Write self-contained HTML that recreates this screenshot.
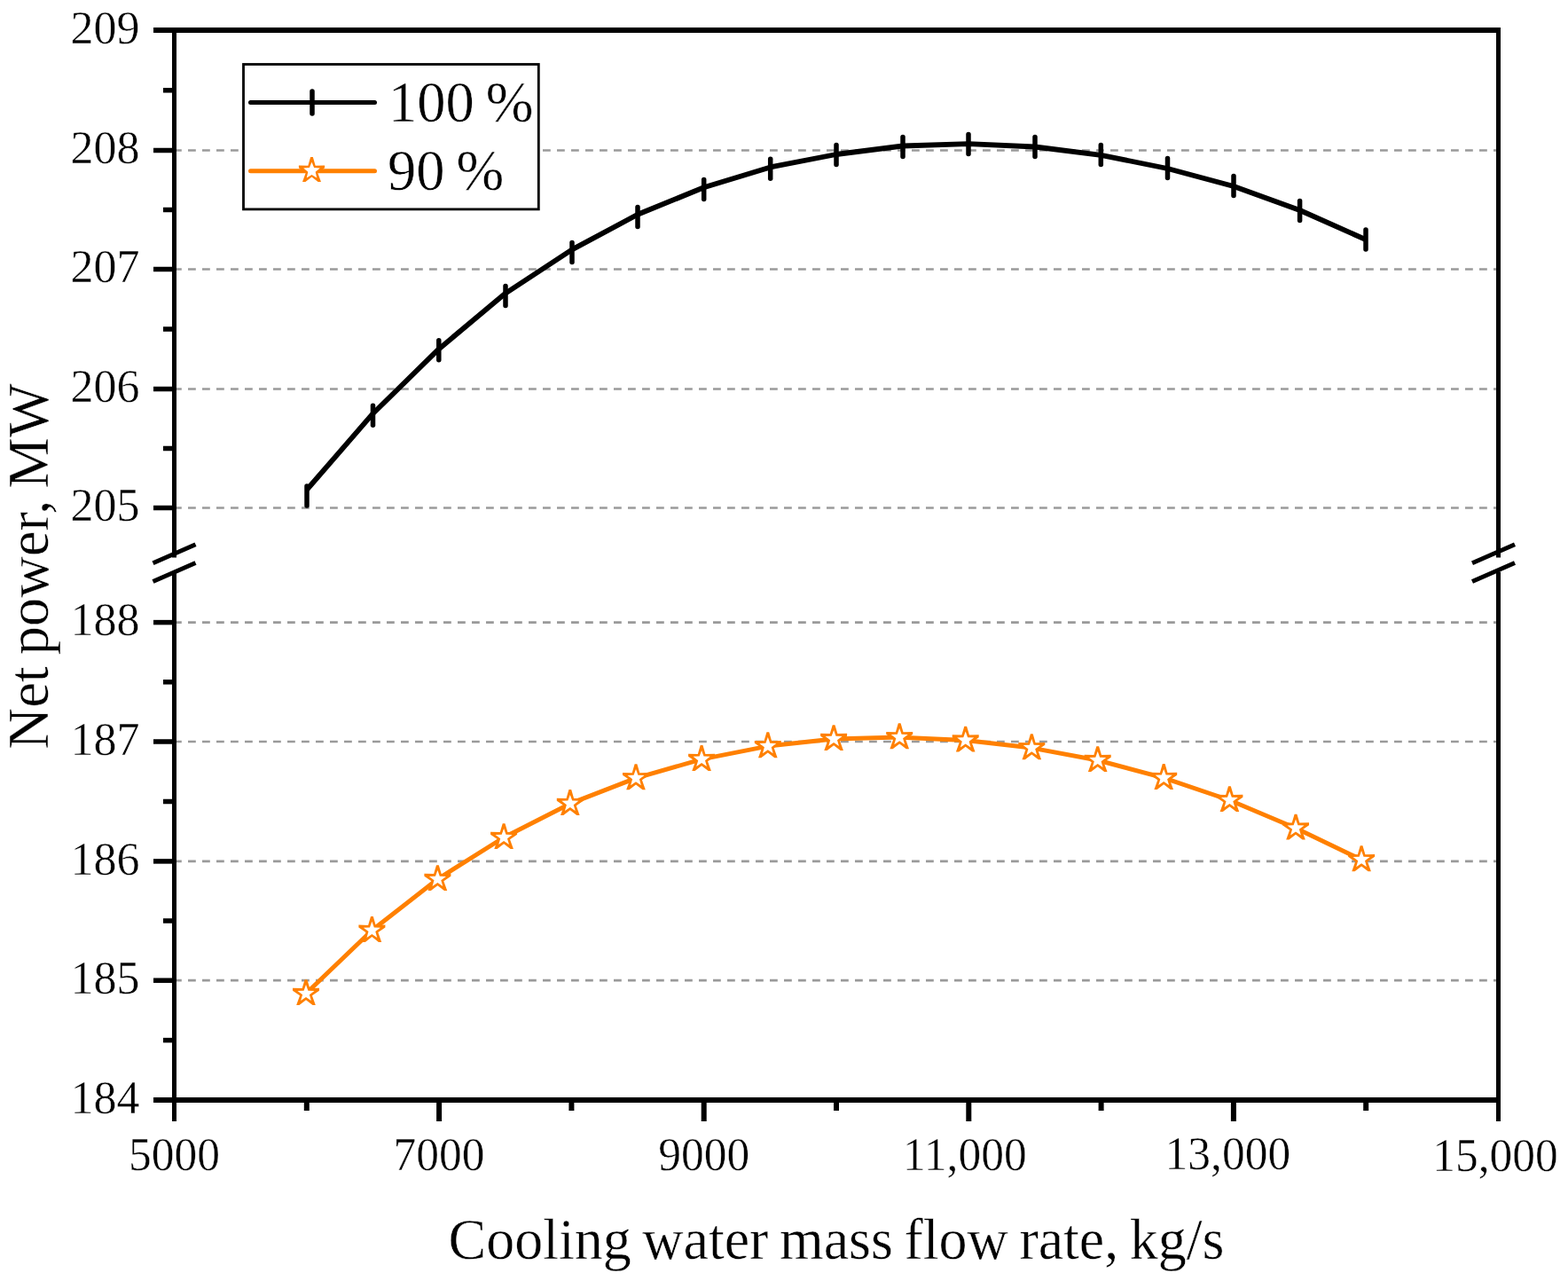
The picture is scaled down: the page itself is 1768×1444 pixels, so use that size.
<!DOCTYPE html>
<html><head><meta charset="utf-8"><title>Net power vs cooling water mass flow rate</title>
<style>html,body{margin:0;padding:0;background:#fff;}body{width:1768px;height:1444px;overflow:hidden;}svg{display:block;}text{fill:#000;stroke:#fff;stroke-width:0.45px;paint-order:fill;}</style>
</head><body>
<svg width="1768" height="1444" viewBox="0 0 1768 1444">
<rect width="1768" height="1444" fill="#fff"/>
<line x1="196.0" y1="169.5" x2="1689.5" y2="169.5" stroke="#9a9a9a" stroke-width="2.7" stroke-dasharray="8.8 7.2"/>
<line x1="196.0" y1="303.5" x2="1689.5" y2="303.5" stroke="#9a9a9a" stroke-width="2.7" stroke-dasharray="8.8 7.2"/>
<line x1="196.0" y1="438.5" x2="1689.5" y2="438.5" stroke="#9a9a9a" stroke-width="2.7" stroke-dasharray="8.8 7.2"/>
<line x1="196.0" y1="572.5" x2="1689.5" y2="572.5" stroke="#9a9a9a" stroke-width="2.7" stroke-dasharray="8.8 7.2"/>
<line x1="196.0" y1="701.6" x2="1689.5" y2="701.6" stroke="#9a9a9a" stroke-width="2.7" stroke-dasharray="8.8 7.2"/>
<line x1="196.0" y1="836.0" x2="1689.5" y2="836.0" stroke="#9a9a9a" stroke-width="2.7" stroke-dasharray="8.8 7.2"/>
<line x1="196.0" y1="970.9" x2="1689.5" y2="970.9" stroke="#9a9a9a" stroke-width="2.7" stroke-dasharray="8.8 7.2"/>
<line x1="196.0" y1="1105.2" x2="1689.5" y2="1105.2" stroke="#9a9a9a" stroke-width="2.7" stroke-dasharray="8.8 7.2"/>
<polyline points="346.0,552.0 420.5,466.2 494.8,393.4 570.0,330.6 645.0,281.4 719.0,241.8 793.7,211.3 868.7,188.4 943.0,174.0 1018.0,164.5 1092.0,162.1 1167.0,165.5 1241.3,174.8 1316.5,190.0 1391.0,210.0 1465.6,237.0 1540.0,270.1" fill="none" stroke="#000" stroke-width="5.8" stroke-linejoin="round"/>
<line x1="346" y1="548.0" x2="346" y2="570.0" stroke="#000" stroke-width="5.5" stroke-linecap="round"/>
<line x1="420.5" y1="457.3" x2="420.5" y2="479.3" stroke="#000" stroke-width="5.5" stroke-linecap="round"/>
<line x1="494.8" y1="383.7" x2="494.8" y2="405.7" stroke="#000" stroke-width="5.5" stroke-linecap="round"/>
<line x1="570" y1="322.6" x2="570" y2="344.6" stroke="#000" stroke-width="5.5" stroke-linecap="round"/>
<line x1="645" y1="273.4" x2="645" y2="295.4" stroke="#000" stroke-width="5.5" stroke-linecap="round"/>
<line x1="719" y1="233.4" x2="719" y2="255.4" stroke="#000" stroke-width="5.5" stroke-linecap="round"/>
<line x1="793.7" y1="202.6" x2="793.7" y2="224.6" stroke="#000" stroke-width="5.5" stroke-linecap="round"/>
<line x1="868.7" y1="179.3" x2="868.7" y2="201.3" stroke="#000" stroke-width="5.5" stroke-linecap="round"/>
<line x1="943" y1="163.4" x2="943" y2="185.4" stroke="#000" stroke-width="5.5" stroke-linecap="round"/>
<line x1="1018" y1="154.4" x2="1018" y2="176.4" stroke="#000" stroke-width="5.5" stroke-linecap="round"/>
<line x1="1092" y1="151.4" x2="1092" y2="173.4" stroke="#000" stroke-width="5.5" stroke-linecap="round"/>
<line x1="1167" y1="154.6" x2="1167" y2="176.6" stroke="#000" stroke-width="5.5" stroke-linecap="round"/>
<line x1="1241.3" y1="163.4" x2="1241.3" y2="185.4" stroke="#000" stroke-width="5.5" stroke-linecap="round"/>
<line x1="1316.5" y1="178.6" x2="1316.5" y2="200.6" stroke="#000" stroke-width="5.5" stroke-linecap="round"/>
<line x1="1391" y1="198.5" x2="1391" y2="220.5" stroke="#000" stroke-width="5.5" stroke-linecap="round"/>
<line x1="1465.6" y1="226.5" x2="1465.6" y2="248.5" stroke="#000" stroke-width="5.5" stroke-linecap="round"/>
<line x1="1540" y1="259.1" x2="1540" y2="281.1" stroke="#000" stroke-width="5.5" stroke-linecap="round"/>
<polyline points="345.0,1120.0 419.4,1048.8 493.4,991.0 568.1,944.0 642.8,905.9 717.0,877.1 791.1,855.9 865.8,841.1 940.1,833.0 1014.2,831.1 1088.7,834.5 1163.3,843.1 1237.7,857.0 1312.2,876.9 1386.4,902.0 1461.0,933.5 1535.1,969.1" fill="none" stroke="#ff8000" stroke-width="5" stroke-linejoin="round"/>
<path d="M343.62,1104.20 L346.38,1104.20 L349.29,1114.09 L360.00,1113.79 L360.00,1116.74 L351.94,1122.26 L355.81,1133.10 L352.53,1133.10 L345.00,1127.30 L337.47,1133.10 L334.19,1133.10 L338.06,1122.26 L330.00,1116.74 L330.00,1113.79 L340.71,1114.09Z" fill="#ff8000"/><path d="M345.00,1110.00 L347.41,1116.68 L354.51,1116.91 L348.90,1121.27 L350.88,1128.09 L345.00,1124.10 L339.12,1128.09 L341.10,1121.27 L335.49,1116.91 L342.59,1116.68Z" fill="#fff"/>
<path d="M418.02,1033.00 L420.78,1033.00 L423.69,1042.89 L434.40,1042.59 L434.40,1045.54 L426.34,1051.06 L430.21,1061.90 L426.93,1061.90 L419.40,1056.10 L411.87,1061.90 L408.59,1061.90 L412.46,1051.06 L404.40,1045.54 L404.40,1042.59 L415.11,1042.89Z" fill="#ff8000"/><path d="M419.40,1038.80 L421.81,1045.48 L428.91,1045.71 L423.30,1050.07 L425.28,1056.89 L419.40,1052.90 L413.52,1056.89 L415.50,1050.07 L409.89,1045.71 L416.99,1045.48Z" fill="#fff"/>
<path d="M492.02,975.20 L494.78,975.20 L497.69,985.09 L508.40,984.79 L508.40,987.74 L500.34,993.26 L504.21,1004.10 L500.93,1004.10 L493.40,998.30 L485.87,1004.10 L482.59,1004.10 L486.46,993.26 L478.40,987.74 L478.40,984.79 L489.11,985.09Z" fill="#ff8000"/><path d="M493.40,981.00 L495.81,987.68 L502.91,987.91 L497.30,992.27 L499.28,999.09 L493.40,995.10 L487.52,999.09 L489.50,992.27 L483.89,987.91 L490.99,987.68Z" fill="#fff"/>
<path d="M566.72,928.20 L569.48,928.20 L572.39,938.09 L583.10,937.79 L583.10,940.74 L575.04,946.26 L578.91,957.10 L575.63,957.10 L568.10,951.30 L560.57,957.10 L557.29,957.10 L561.16,946.26 L553.10,940.74 L553.10,937.79 L563.81,938.09Z" fill="#ff8000"/><path d="M568.10,934.00 L570.51,940.68 L577.61,940.91 L572.00,945.27 L573.98,952.09 L568.10,948.10 L562.22,952.09 L564.20,945.27 L558.59,940.91 L565.69,940.68Z" fill="#fff"/>
<path d="M641.42,890.10 L644.18,890.10 L647.09,899.99 L657.80,899.69 L657.80,902.64 L649.74,908.16 L653.61,919.00 L650.33,919.00 L642.80,913.20 L635.27,919.00 L631.99,919.00 L635.86,908.16 L627.80,902.64 L627.80,899.69 L638.51,899.99Z" fill="#ff8000"/><path d="M642.80,895.90 L645.21,902.58 L652.31,902.81 L646.70,907.17 L648.68,913.99 L642.80,910.00 L636.92,913.99 L638.90,907.17 L633.29,902.81 L640.39,902.58Z" fill="#fff"/>
<path d="M715.62,861.30 L718.38,861.30 L721.29,871.19 L732.00,870.89 L732.00,873.84 L723.94,879.36 L727.81,890.20 L724.53,890.20 L717.00,884.40 L709.47,890.20 L706.19,890.20 L710.06,879.36 L702.00,873.84 L702.00,870.89 L712.71,871.19Z" fill="#ff8000"/><path d="M717.00,867.10 L719.41,873.78 L726.51,874.01 L720.90,878.37 L722.88,885.19 L717.00,881.20 L711.12,885.19 L713.10,878.37 L707.49,874.01 L714.59,873.78Z" fill="#fff"/>
<path d="M789.72,840.10 L792.48,840.10 L795.39,849.99 L806.10,849.69 L806.10,852.64 L798.04,858.16 L801.91,869.00 L798.63,869.00 L791.10,863.20 L783.57,869.00 L780.29,869.00 L784.16,858.16 L776.10,852.64 L776.10,849.69 L786.81,849.99Z" fill="#ff8000"/><path d="M791.10,845.90 L793.51,852.58 L800.61,852.81 L795.00,857.17 L796.98,863.99 L791.10,860.00 L785.22,863.99 L787.20,857.17 L781.59,852.81 L788.69,852.58Z" fill="#fff"/>
<path d="M864.42,825.30 L867.18,825.30 L870.09,835.19 L880.80,834.89 L880.80,837.84 L872.74,843.36 L876.61,854.20 L873.33,854.20 L865.80,848.40 L858.27,854.20 L854.99,854.20 L858.86,843.36 L850.80,837.84 L850.80,834.89 L861.51,835.19Z" fill="#ff8000"/><path d="M865.80,831.10 L868.21,837.78 L875.31,838.01 L869.70,842.37 L871.68,849.19 L865.80,845.20 L859.92,849.19 L861.90,842.37 L856.29,838.01 L863.39,837.78Z" fill="#fff"/>
<path d="M938.72,817.20 L941.48,817.20 L944.39,827.09 L955.10,826.79 L955.10,829.74 L947.04,835.26 L950.91,846.10 L947.63,846.10 L940.10,840.30 L932.57,846.10 L929.29,846.10 L933.16,835.26 L925.10,829.74 L925.10,826.79 L935.81,827.09Z" fill="#ff8000"/><path d="M940.10,823.00 L942.51,829.68 L949.61,829.91 L944.00,834.27 L945.98,841.09 L940.10,837.10 L934.22,841.09 L936.20,834.27 L930.59,829.91 L937.69,829.68Z" fill="#fff"/>
<path d="M1012.82,815.30 L1015.58,815.30 L1018.49,825.19 L1029.20,824.89 L1029.20,827.84 L1021.14,833.36 L1025.01,844.20 L1021.73,844.20 L1014.20,838.40 L1006.67,844.20 L1003.39,844.20 L1007.26,833.36 L999.20,827.84 L999.20,824.89 L1009.91,825.19Z" fill="#ff8000"/><path d="M1014.20,821.10 L1016.61,827.78 L1023.71,828.01 L1018.10,832.37 L1020.08,839.19 L1014.20,835.20 L1008.32,839.19 L1010.30,832.37 L1004.69,828.01 L1011.79,827.78Z" fill="#fff"/>
<path d="M1087.32,818.70 L1090.08,818.70 L1092.99,828.59 L1103.70,828.29 L1103.70,831.24 L1095.64,836.76 L1099.51,847.60 L1096.23,847.60 L1088.70,841.80 L1081.17,847.60 L1077.89,847.60 L1081.76,836.76 L1073.70,831.24 L1073.70,828.29 L1084.41,828.59Z" fill="#ff8000"/><path d="M1088.70,824.50 L1091.11,831.18 L1098.21,831.41 L1092.60,835.77 L1094.58,842.59 L1088.70,838.60 L1082.82,842.59 L1084.80,835.77 L1079.19,831.41 L1086.29,831.18Z" fill="#fff"/>
<path d="M1161.92,827.30 L1164.68,827.30 L1167.59,837.19 L1178.30,836.89 L1178.30,839.84 L1170.24,845.36 L1174.11,856.20 L1170.83,856.20 L1163.30,850.40 L1155.77,856.20 L1152.49,856.20 L1156.36,845.36 L1148.30,839.84 L1148.30,836.89 L1159.01,837.19Z" fill="#ff8000"/><path d="M1163.30,833.10 L1165.71,839.78 L1172.81,840.01 L1167.20,844.37 L1169.18,851.19 L1163.30,847.20 L1157.42,851.19 L1159.40,844.37 L1153.79,840.01 L1160.89,839.78Z" fill="#fff"/>
<path d="M1236.32,841.20 L1239.08,841.20 L1241.99,851.09 L1252.70,850.79 L1252.70,853.74 L1244.64,859.26 L1248.51,870.10 L1245.23,870.10 L1237.70,864.30 L1230.17,870.10 L1226.89,870.10 L1230.76,859.26 L1222.70,853.74 L1222.70,850.79 L1233.41,851.09Z" fill="#ff8000"/><path d="M1237.70,847.00 L1240.11,853.68 L1247.21,853.91 L1241.60,858.27 L1243.58,865.09 L1237.70,861.10 L1231.82,865.09 L1233.80,858.27 L1228.19,853.91 L1235.29,853.68Z" fill="#fff"/>
<path d="M1310.82,861.10 L1313.58,861.10 L1316.49,870.99 L1327.20,870.69 L1327.20,873.64 L1319.14,879.16 L1323.01,890.00 L1319.73,890.00 L1312.20,884.20 L1304.67,890.00 L1301.39,890.00 L1305.26,879.16 L1297.20,873.64 L1297.20,870.69 L1307.91,870.99Z" fill="#ff8000"/><path d="M1312.20,866.90 L1314.61,873.58 L1321.71,873.81 L1316.10,878.17 L1318.08,884.99 L1312.20,881.00 L1306.32,884.99 L1308.30,878.17 L1302.69,873.81 L1309.79,873.58Z" fill="#fff"/>
<path d="M1385.02,886.20 L1387.78,886.20 L1390.69,896.09 L1401.40,895.79 L1401.40,898.74 L1393.34,904.26 L1397.21,915.10 L1393.93,915.10 L1386.40,909.30 L1378.87,915.10 L1375.59,915.10 L1379.46,904.26 L1371.40,898.74 L1371.40,895.79 L1382.11,896.09Z" fill="#ff8000"/><path d="M1386.40,892.00 L1388.81,898.68 L1395.91,898.91 L1390.30,903.27 L1392.28,910.09 L1386.40,906.10 L1380.52,910.09 L1382.50,903.27 L1376.89,898.91 L1383.99,898.68Z" fill="#fff"/>
<path d="M1459.62,917.70 L1462.38,917.70 L1465.29,927.59 L1476.00,927.29 L1476.00,930.24 L1467.94,935.76 L1471.81,946.60 L1468.53,946.60 L1461.00,940.80 L1453.47,946.60 L1450.19,946.60 L1454.06,935.76 L1446.00,930.24 L1446.00,927.29 L1456.71,927.59Z" fill="#ff8000"/><path d="M1461.00,923.50 L1463.41,930.18 L1470.51,930.41 L1464.90,934.77 L1466.88,941.59 L1461.00,937.60 L1455.12,941.59 L1457.10,934.77 L1451.49,930.41 L1458.59,930.18Z" fill="#fff"/>
<path d="M1533.72,953.30 L1536.48,953.30 L1539.39,963.19 L1550.10,962.89 L1550.10,965.84 L1542.04,971.36 L1545.91,982.20 L1542.63,982.20 L1535.10,976.40 L1527.57,982.20 L1524.29,982.20 L1528.16,971.36 L1520.10,965.84 L1520.10,962.89 L1530.81,963.19Z" fill="#ff8000"/><path d="M1535.10,959.10 L1537.51,965.78 L1544.61,966.01 L1539.00,970.37 L1540.98,977.19 L1535.10,973.20 L1529.22,977.19 L1531.20,970.37 L1525.59,966.01 L1532.69,965.78Z" fill="#fff"/>
<line x1="173.0" y1="34.0" x2="1692.0" y2="34.0" stroke="#000" stroke-width="6.0"/>
<line x1="173.0" y1="1240.0" x2="1692.0" y2="1240.0" stroke="#000" stroke-width="6.0"/>
<line x1="196.5" y1="34.0" x2="196.5" y2="628.5" stroke="#000" stroke-width="5.0"/>
<line x1="196.5" y1="644.5" x2="196.5" y2="1240.0" stroke="#000" stroke-width="5.0"/>
<line x1="172.5" y1="634.8" x2="220.5" y2="613.8" stroke="#000" stroke-width="5"/>
<line x1="172.5" y1="655.5" x2="220.5" y2="634.5" stroke="#000" stroke-width="5"/>
<line x1="1689.5" y1="34.0" x2="1689.5" y2="628.5" stroke="#000" stroke-width="5.0"/>
<line x1="1689.5" y1="644.5" x2="1689.5" y2="1240.0" stroke="#000" stroke-width="5.0"/>
<line x1="1660.0" y1="634.8" x2="1708.0" y2="613.8" stroke="#000" stroke-width="5"/>
<line x1="1660.0" y1="655.5" x2="1708.0" y2="634.5" stroke="#000" stroke-width="5"/>
<line x1="173.0" y1="169.5" x2="196.5" y2="169.5" stroke="#000" stroke-width="5.5"/>
<line x1="173.0" y1="303.5" x2="196.5" y2="303.5" stroke="#000" stroke-width="5.5"/>
<line x1="173.0" y1="438.5" x2="196.5" y2="438.5" stroke="#000" stroke-width="5.5"/>
<line x1="173.0" y1="572.5" x2="196.5" y2="572.5" stroke="#000" stroke-width="5.5"/>
<line x1="173.0" y1="701.6" x2="196.5" y2="701.6" stroke="#000" stroke-width="5.5"/>
<line x1="173.0" y1="836.0" x2="196.5" y2="836.0" stroke="#000" stroke-width="5.5"/>
<line x1="173.0" y1="970.9" x2="196.5" y2="970.9" stroke="#000" stroke-width="5.5"/>
<line x1="173.0" y1="1105.2" x2="196.5" y2="1105.2" stroke="#000" stroke-width="5.5"/>
<line x1="184.0" y1="101.8" x2="196.5" y2="101.8" stroke="#000" stroke-width="5.5"/>
<line x1="184.0" y1="236.5" x2="196.5" y2="236.5" stroke="#000" stroke-width="5.5"/>
<line x1="184.0" y1="371.0" x2="196.5" y2="371.0" stroke="#000" stroke-width="5.5"/>
<line x1="184.0" y1="505.5" x2="196.5" y2="505.5" stroke="#000" stroke-width="5.5"/>
<line x1="184.0" y1="768.8" x2="196.5" y2="768.8" stroke="#000" stroke-width="5.5"/>
<line x1="184.0" y1="903.5" x2="196.5" y2="903.5" stroke="#000" stroke-width="5.5"/>
<line x1="184.0" y1="1038.0" x2="196.5" y2="1038.0" stroke="#000" stroke-width="5.5"/>
<line x1="184.0" y1="1172.6" x2="196.5" y2="1172.6" stroke="#000" stroke-width="5.5"/>
<line x1="196.5" y1="1240.0" x2="196.5" y2="1264" stroke="#000" stroke-width="5"/>
<line x1="495.1" y1="1240.0" x2="495.1" y2="1264" stroke="#000" stroke-width="6"/>
<line x1="793.7" y1="1240.0" x2="793.7" y2="1264" stroke="#000" stroke-width="6"/>
<line x1="1092.3" y1="1240.0" x2="1092.3" y2="1264" stroke="#000" stroke-width="6"/>
<line x1="1390.9" y1="1240.0" x2="1390.9" y2="1264" stroke="#000" stroke-width="6"/>
<line x1="1689.5" y1="1240.0" x2="1689.5" y2="1264" stroke="#000" stroke-width="5"/>
<line x1="345.8" y1="1240.0" x2="345.8" y2="1252" stroke="#000" stroke-width="6"/>
<line x1="644.4" y1="1240.0" x2="644.4" y2="1252" stroke="#000" stroke-width="6"/>
<line x1="943.0" y1="1240.0" x2="943.0" y2="1252" stroke="#000" stroke-width="6"/>
<line x1="1241.6" y1="1240.0" x2="1241.6" y2="1252" stroke="#000" stroke-width="6"/>
<line x1="1540.2" y1="1240.0" x2="1540.2" y2="1252" stroke="#000" stroke-width="6"/>
<text transform="translate(157.5,48.8) scale(1,1.03)" text-anchor="end" font-family='"Liberation Serif", "Times New Roman", serif' font-size="52">209</text>
<text transform="translate(157.5,184.3) scale(1,1.03)" text-anchor="end" font-family='"Liberation Serif", "Times New Roman", serif' font-size="52">208</text>
<text transform="translate(157.5,318.3) scale(1,1.03)" text-anchor="end" font-family='"Liberation Serif", "Times New Roman", serif' font-size="52">207</text>
<text transform="translate(157.5,453.3) scale(1,1.03)" text-anchor="end" font-family='"Liberation Serif", "Times New Roman", serif' font-size="52">206</text>
<text transform="translate(157.5,587.3) scale(1,1.03)" text-anchor="end" font-family='"Liberation Serif", "Times New Roman", serif' font-size="52">205</text>
<text transform="translate(157.5,716.4) scale(1,1.03)" text-anchor="end" font-family='"Liberation Serif", "Times New Roman", serif' font-size="52">188</text>
<text transform="translate(157.5,850.8) scale(1,1.03)" text-anchor="end" font-family='"Liberation Serif", "Times New Roman", serif' font-size="52">187</text>
<text transform="translate(157.5,985.7) scale(1,1.03)" text-anchor="end" font-family='"Liberation Serif", "Times New Roman", serif' font-size="52">186</text>
<text transform="translate(157.5,1120.0) scale(1,1.03)" text-anchor="end" font-family='"Liberation Serif", "Times New Roman", serif' font-size="52">185</text>
<text transform="translate(157.5,1254.8) scale(1,1.03)" text-anchor="end" font-family='"Liberation Serif", "Times New Roman", serif' font-size="52">184</text>
<text transform="translate(196.5,1318.8) scale(1,1.02)" text-anchor="middle" font-family='"Liberation Serif", "Times New Roman", serif' font-size="51.5">5000</text>
<text transform="translate(495.1,1318.8) scale(1,1.02)" text-anchor="middle" font-family='"Liberation Serif", "Times New Roman", serif' font-size="51.5">7000</text>
<text transform="translate(793.7,1318.8) scale(1,1.02)" text-anchor="middle" font-family='"Liberation Serif", "Times New Roman", serif' font-size="51.5">9000</text>
<text transform="translate(1087.8,1318.8) scale(1,1.02)" text-anchor="middle" font-family='"Liberation Serif", "Times New Roman", serif' font-size="51.5">11,000</text>
<text transform="translate(1384.4,1317.8) scale(1,1.02)" text-anchor="middle" font-family='"Liberation Serif", "Times New Roman", serif' font-size="51.5">13,000</text>
<text transform="translate(1686.0,1319.5) scale(1,1.02)" text-anchor="middle" font-family='"Liberation Serif", "Times New Roman", serif' font-size="51.5">15,000</text>
<text transform="translate(943.0,1418.5) scale(1,1.02)" text-anchor="middle" word-spacing="-3.4" font-family='"Liberation Serif", "Times New Roman", serif' font-size="64">Cooling water mass flow rate, kg/s</text>
<text transform="translate(54.3,638.3) rotate(-90) scale(1,1.02)" text-anchor="middle" word-spacing="-3" font-family='"Liberation Serif", "Times New Roman", serif' font-size="64.5">Net power, MW</text>
<rect x="274.5" y="72.5" width="332.8" height="163.4" fill="#fff" stroke="#000" stroke-width="2.8"/>
<line x1="282.5" y1="115.5" x2="422.5" y2="115.5" stroke="#000" stroke-width="5" stroke-linecap="round"/>
<line x1="352" y1="103" x2="352" y2="128" stroke="#000" stroke-width="5.5" stroke-linecap="round"/>
<line x1="282.5" y1="192.7" x2="422.5" y2="192.7" stroke="#ff8000" stroke-width="5" stroke-linecap="round"/>
<path d="M350.15,177.10 L352.85,177.10 L355.67,186.76 L366.10,186.45 L366.10,189.34 L358.25,194.69 L361.97,205.10 L358.62,205.10 L351.50,199.60 L344.38,205.10 L341.03,205.10 L344.75,194.69 L336.90,189.34 L336.90,186.45 L347.33,186.76Z" fill="#ff8000"/><path d="M351.50,182.70 L354.09,188.94 L360.82,189.47 L355.68,193.86 L357.26,200.43 L351.50,196.90 L345.74,200.43 L347.32,193.86 L342.18,189.47 L348.91,188.94Z" fill="#fff"/>
<text transform="translate(438.0,137.4) scale(1,1.02)" word-spacing="-3" font-family='"Liberation Serif", "Times New Roman", serif' font-size="64.5">100 %</text>
<text transform="translate(437.0,213.7) scale(1,1.02)" word-spacing="-3" font-family='"Liberation Serif", "Times New Roman", serif' font-size="64.5">90 %</text>
</svg>
</body></html>
